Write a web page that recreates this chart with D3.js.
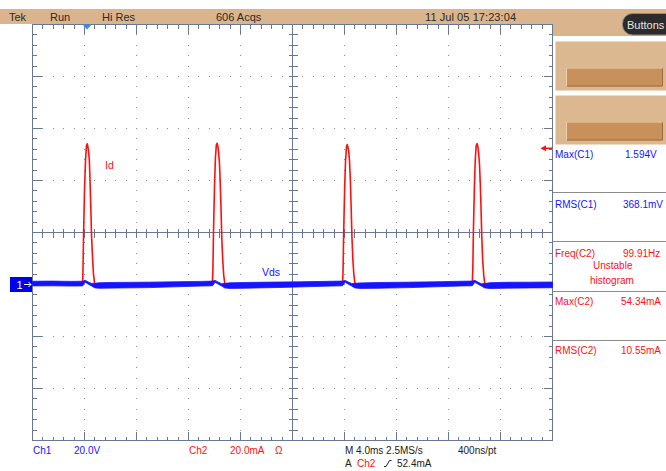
<!DOCTYPE html>
<html>
<head>
<meta charset="utf-8">
<script src="https://cdn.jsdelivr.net/npm/d3@7"></script>
<style>
  html, body { margin: 0; padding: 0; background: #ffffff; }
  svg { display: block; font-family: "Liberation Sans", Arial, sans-serif; }
</style>
</head>
<body>
<svg id="scope" width="666" height="471"></svg>
<script>
// Horizontal: 4 ms/div over 10 divisions. Vertical: 20 V/div (Ch1) and 20 mA/div (Ch2), ground one division below centre.
const timeSpan = [0, 40];          // ms
const levelSpan = [-60, 100];      // V for Ch1, mA for Ch2
const divisionsX = 10;
const divisionsY = 8;
const minorPerDiv = 5;

// Ch2: drain current Id (mA)
const idTime = [
  0, 1.2, 2.3, 3.1, 3.6,
  3.85, 3.88, 3.92, 4.00, 4.08, 4.15, 4.21, 4.25, 4.31, 4.37, 4.42, 4.48, 4.54, 4.62, 4.69, 4.77, 4.85,
  5.5, 7.0, 8.8, 10.5, 12.0, 13.2,
  13.84, 13.88, 13.92, 14.00, 14.07, 14.14, 14.20, 14.26, 14.32, 14.38, 14.44, 14.50, 14.56, 14.63, 14.71, 14.79, 14.87,
  15.5, 17.5, 19.8, 21.5, 23.2,
  23.85, 23.89, 23.93, 24.01, 24.08, 24.15, 24.21, 24.27, 24.33, 24.39, 24.45, 24.51, 24.57, 24.64, 24.72, 24.80, 24.88,
  25.5, 27.6, 29.5, 31.4, 33.2,
  33.83, 33.87, 33.91, 33.99, 34.06, 34.13, 34.20, 34.26, 34.32, 34.38, 34.44, 34.50, 34.56, 34.63, 34.71, 34.79, 34.87,
  35.5, 37.4, 39.0, 40.0
];
const idValue = [
  0.6, 0.9, 0.5, 0.8, 0.5,
  0.6, 4.8, 17.1, 36.3, 47.9, 53.3, 54.1, 53.3, 51.3, 47.9, 40.9, 30.6, 19.0, 10.2, 4.0, 0.6, -0.4,
  -0.3, 0.2, 0.5, 0.4, 0.7, 0.6,
  0.5, 6.0, 19.5, 37.5, 48.6, 53.6, 54.34, 53.1, 50.6, 46.8, 39.2, 29.4, 18.1, 9.6, 3.5, 0.4, -0.5,
  -0.2, 0.3, 0.5, 0.8, 0.6,
  0.6, 5.2, 18.4, 36.9, 47.5, 52.9, 53.8, 52.8, 50.9, 47.2, 40.1, 30.0, 18.6, 9.9, 3.8, 0.5, -0.4,
  -0.3, 0.2, 0.6, 0.7, 0.5,
  0.5, 5.6, 19.0, 37.2, 48.1, 53.4, 54.2, 53.0, 50.4, 46.5, 39.6, 29.8, 18.3, 9.4, 3.6, 0.3, -0.6,
  -0.2, 0.2, 0.4, 0.3
];

// Ch1: drain-source voltage Vds (V), hi-res envelope (upper and lower edge)
const vdsTime = [
  0, 1.5, 3.0, 3.85, 4.05, 4.3, 4.55, 4.8, 5.2, 6.5, 9.0, 11.5, 13.0,
  13.85, 14.05, 14.3, 14.55, 14.8, 15.2, 16.5, 19.0, 21.5, 23.0,
  23.85, 24.05, 24.3, 24.55, 24.8, 25.2, 26.5, 29.0, 31.5, 33.0,
  33.83, 34.03, 34.28, 34.53, 34.78, 35.2, 36.5, 38.5, 40.0
];
const vdsHigh = [
  1.25, 1.3, 1.2, 1.25, 1.594, 0.95, 0.35, 0.5, 0.7, 0.8, 0.9, 1.1, 1.2,
  1.3, 1.58, 0.9, 0.3, 0.45, 0.65, 0.8, 0.95, 1.1, 1.25,
  1.3, 1.57, 0.95, 0.35, 0.45, 0.6, 0.75, 0.9, 1.1, 1.25,
  1.3, 1.59, 0.9, 0.3, 0.4, 0.7, 0.85, 0.9, 0.95
];
const vdsLow = [
  -0.55, -0.5, -0.6, -0.55, 0.9, 0.1, -0.6, -1.3, -1.45, -1.35, -1.2, -0.8, -0.6,
  -0.5, 0.85, 0.1, -0.6, -1.35, -1.5, -1.4, -1.15, -0.8, -0.6,
  -0.5, 0.9, 0.1, -0.6, -1.3, -1.5, -1.45, -1.2, -0.8, -0.55,
  -0.5, 0.85, 0.1, -0.6, -1.3, -1.55, -1.4, -1.3, -1.25
];

const triggerTime = 4.2;     // ms, trigger position marker
const triggerLevel = 52.4;   // mA on Ch2

const statusLabels = ["Tek", "Run", "Hi Res", "606 Acqs", "11 Jul 05 17:23:04"];
const measureNames = ["Max(C1)", "RMS(C1)", "Freq(C2)", "Max(C2)", "RMS(C2)"];
const measureValues = ["1.594V", "368.1mV", "99.91Hz", "54.34mA", "10.55mA"];
const measureChannel = [1, 1, 2, 2, 2];

// ---------------------------------------------------------------
const BLUE = "#1414ff", RED = "#ff1010", GRID = "#6a7794", TAN = "#d9b48c";
const svg = d3.select("#scope");

const x = d3.scaleLinear().domain(timeSpan).range([32.5, 552.5]);
const y = d3.scaleLinear().domain(levelSpan).range([440.5, 24.5]);

const [x0, x1] = x.range();
const [yb, yt] = y.range();
const xDiv = (timeSpan[1] - timeSpan[0]) / divisionsX;
const yDiv = (levelSpan[1] - levelSpan[0]) / divisionsY;
const xMid = x((timeSpan[0] + timeSpan[1]) / 2);
const yMid = y((levelSpan[0] + levelSpan[1]) / 2);

// status bar across the top
svg.append("rect").attr("x", 0).attr("y", 9).attr("width", 553).attr("height", 15).attr("fill", TAN);
svg.append("rect").attr("x", 553).attr("y", 9).attr("width", 113).attr("height", 27).attr("fill", TAN);
const statusX = [9, 50, 102, 216, 425];
svg.append("g").selectAll("text").data(statusLabels).join("text")
  .attr("x", (d, i) => statusX[i]).attr("y", 20.5)
  .attr("font-size", 11).attr("fill", "#2e2a26")
  .attr("textLength", (d, i) => i === 4 ? 91 : null)
  .text(d => d);

// "Buttons" pill
svg.append("rect").attr("x", 622.5).attr("y", 13.5).attr("width", 60).attr("height", 21.5)
  .attr("rx", 10).attr("fill", "#2b2b2b").attr("stroke", "#8a8a8a");
svg.append("text").attr("x", 627).attr("y", 29).attr("font-size", 11).attr("fill", "#e4e4e4").text("Buttons");

// side menu buttons
[[41.5, 67.5], [95.5, 121.5]].forEach(([top, inner]) => {
  svg.append("rect").attr("x", 555.5).attr("y", top).attr("width", 111).attr("height", 49).attr("fill", "#dcb890");
  svg.append("rect").attr("x", 566).attr("y", inner).attr("width", 96.5).attr("height", 19).attr("fill", "#c8915b");
  svg.append("path").attr("d", `M566.5,${inner + 19}V${inner + 0.5}H662`).attr("fill", "none").attr("stroke", "#ecd0ae");
  svg.append("path").attr("d", `M567,${inner + 18.5}H662.5V${inner + 1}`).attr("fill", "none").attr("stroke", "#9c6a3c");
});

// measurement readouts
[192.5, 241.5, 291.5, 340.5].forEach(v => {
  svg.append("line").attr("x1", 553).attr("x2", 666).attr("y1", v).attr("y2", v).attr("stroke", "#8c8c8c");
});
const nameY = [157.5, 207.5, 257, 305, 353.5];
const valueX = [625, 623, 623, 621, 621];
const readouts = svg.append("g").attr("font-size", 10);
readouts.selectAll("text.name").data(measureNames).join("text").attr("class", "name")
  .attr("x", 555).attr("y", (d, i) => nameY[i])
  .attr("fill", (d, i) => measureChannel[i] === 1 ? BLUE : RED).text(d => d);
readouts.selectAll("text.val").data(measureValues).join("text").attr("class", "val")
  .attr("x", (d, i) => valueX[i]).attr("y", (d, i) => nameY[i])
  .attr("fill", (d, i) => measureChannel[i] === 1 ? BLUE : RED).text(d => d);
readouts.append("text").attr("x", 593).attr("y", 269).attr("fill", RED).text("Unstable");
readouts.append("text").attr("x", 590).attr("y", 284).attr("fill", RED).text("histogram");

// graticule
const g = svg.append("g").attr("shape-rendering", "crispEdges");
const minorX = d3.range(0, divisionsX * minorPerDiv + 1).map(i => timeSpan[0] + i * xDiv / minorPerDiv);
const minorY = d3.range(0, divisionsY * minorPerDiv + 1).map(i => levelSpan[0] + i * yDiv / minorPerDiv);
const isMajor = i => i % minorPerDiv === 0;

// dotted division lines
const dots = [];
d3.range(1, divisionsX).filter(k => k !== divisionsX / 2).forEach(k => {
  const px = Math.floor(x(timeSpan[0] + k * xDiv));
  minorY.slice(1, -1).forEach(v => dots.push([px, Math.floor(y(v))]));
});
d3.range(1, divisionsY).filter(k => k !== divisionsY / 2).forEach(k => {
  const py = Math.floor(y(levelSpan[0] + k * yDiv));
  minorX.slice(1, -1).forEach(t => dots.push([Math.floor(x(t)), py]));
});
g.selectAll("rect.dot").data(dots).join("rect").attr("class", "dot")
  .attr("x", d => d[0]).attr("y", d => d[1]).attr("width", 1).attr("height", 1).attr("fill", "#8f8f8f");

// centre cross
g.append("line").attr("x1", xMid).attr("x2", xMid).attr("y1", yt).attr("y2", yb).attr("stroke", GRID);
g.append("line").attr("x1", x0).attr("x2", x1).attr("y1", yMid).attr("y2", yMid).attr("stroke", GRID);

// ticks on the frame and the centre cross
const tickPath = [];
minorX.forEach((t, i) => {
  const px = x(t), len = isMajor(i) ? 9 : 4;
  tickPath.push(`M${px},${yt}V${yt + len}`, `M${px},${yb}V${yb - len}`, `M${px},${yMid - 4}V${yMid + 5}`);
});
minorY.forEach((v, i) => {
  const py = y(v), len = isMajor(i) ? 9 : 4;
  tickPath.push(`M${x0},${py}H${x0 + len}`, `M${x1},${py}H${x1 - len}`, `M${xMid - 4},${py}H${xMid + 5}`);
});
g.append("path").attr("d", tickPath.join("")).attr("stroke", GRID).attr("fill", "none");
g.append("rect").attr("x", x0).attr("y", yt).attr("width", x1 - x0).attr("height", yb - yt)
  .attr("fill", "none").attr("stroke", GRID);

// waveforms
const plot = svg.append("g");
const idLine = d3.line().x((d, i) => x(idTime[i])).y(d => y(d));
plot.append("path").datum(idValue).attr("d", idLine)
  .attr("fill", "none").attr("stroke", RED).attr("stroke-width", 1.6).attr("stroke-linejoin", "round");

const vdsArea = d3.area().x((d, i) => x(vdsTime[i])).y0((d, i) => y(vdsLow[i])).y1(d => y(d));
plot.append("path").datum(vdsHigh).attr("d", vdsArea)
  .attr("fill", BLUE).attr("stroke", BLUE).attr("stroke-width", 0.8);

// trace labels
svg.append("text").attr("x", 105).attr("y", 169).attr("font-size", 10.5).attr("fill", RED).text("Id");
svg.append("text").attr("x", 262).attr("y", 275.5).attr("font-size", 10.5).attr("fill", BLUE).text("Vds");

// Ch1 ground marker
const gy = y(0);
svg.append("rect").attr("x", 10).attr("y", gy - 7.5).attr("width", 22).attr("height", 15).attr("fill", "#0000f0");
svg.append("text").attr("x", 16.5).attr("y", gy + 4).attr("font-size", 11).attr("fill", "#ffffff").text("1");
svg.append("path").attr("d", `M24,${gy}H31M28.5,${gy - 2.5}L31,${gy}L28.5,${gy + 2.5}`)
  .attr("stroke", "#ffffff").attr("fill", "none").attr("stroke-width", 1);

// trigger level arrow (Ch2) and trigger position marker
const ty = y(triggerLevel);
svg.append("path").attr("d", `M545,${ty}H552`).attr("stroke", RED).attr("stroke-width", 1.5);
svg.append("path").attr("d", `M540.5,${ty}L546,${ty - 3}V${ty + 3}Z`).attr("fill", RED);
const tx = x(triggerTime);
svg.append("path").attr("d", `M${tx - 4.5},${yt}H${tx + 4.5}L${tx},${yt + 5}Z`).attr("fill", "#2f8fe0");

// bottom settings readout
const bottom = svg.append("g").attr("font-size", 10);
bottom.append("text").attr("x", 33).attr("y", 454).attr("fill", BLUE).text("Ch1");
bottom.append("text").attr("x", 74).attr("y", 454).attr("fill", BLUE).text("20.0V");
bottom.append("text").attr("x", 189).attr("y", 454).attr("fill", RED).text("Ch2");
bottom.append("text").attr("x", 230).attr("y", 454).attr("fill", RED).text("20.0mA");
bottom.append("text").attr("x", 275).attr("y", 454).attr("fill", RED).text("Ω");
bottom.append("text").attr("x", 345).attr("y", 454).attr("fill", "#222").text("M 4.0ms 2.5MS/s");
bottom.append("text").attr("x", 458).attr("y", 454).attr("fill", "#222").text("400ns/pt");
bottom.append("text").attr("x", 345).attr("y", 467).attr("fill", "#222").text("A");
bottom.append("text").attr("x", 357).attr("y", 467).attr("fill", RED).text("Ch2");
bottom.append("path").attr("d", "M384,466.5H386L389.5,460.5H391.5").attr("stroke", "#222").attr("fill", "none");
bottom.append("text").attr("x", 397).attr("y", 467).attr("fill", "#222").text("52.4mA");
</script>
</body>
</html>
